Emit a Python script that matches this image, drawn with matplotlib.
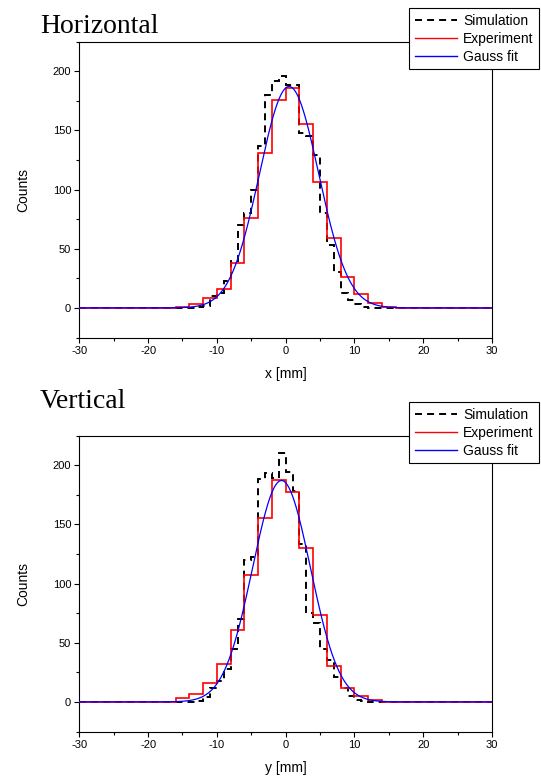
import numpy as np
import matplotlib
matplotlib.use('Agg')
import matplotlib.pyplot as plt
from matplotlib.ticker import MultipleLocator
from matplotlib.lines import Line2D

plt.rcParams['font.family'] = ['Liberation Sans', 'DejaVu Sans']
plt.rcParams['axes.unicode_minus'] = False

# x range of both panels [mm]
x_min, x_max = -30, 30

# Experiment, 2 mm bins starting at -16 mm
exp_start = -16
exp_width = 2
horiz_exp = [1, 3, 8, 16, 38, 76, 131, 176, 186, 155, 106, 59, 26, 12, 4, 1]
vert_exp = [3, 7, 16, 32, 61, 107, 155, 187, 177, 130, 73, 30, 12, 5, 2, 0]

# Simulation, 1 mm bins starting at -13 mm
sim_start = -13
sim_width = 1
horiz_sim = [1, 2, 10, 13, 23, 40, 70, 80, 100, 137, 180, 192, 196, 188, 188,
             148, 145, 129, 80, 53, 30, 13, 7, 3, 1, 0]
vert_sim = [1, 4, 12, 18, 28, 45, 70, 120, 122, 188, 193, 189, 210, 194, 178,
            133, 75, 67, 45, 35, 21, 12, 5, 2, 1, 0]

# Gauss fit parameters: amplitude, centre [mm], sigma [mm]
horiz_fit = [187, 0.5, 4.3]
vert_fit = [187, -0.6, 4.2]

panels = [
    ('Horizontal', 'x [mm]', horiz_sim, horiz_exp, horiz_fit),
    ('Vertical', 'y [mm]', vert_sim, vert_exp, vert_fit),
]


def full_hist(values, start, width):
    # pad the measured bins with zeros over the whole x range
    n_left = int((start - x_min) / width)
    n_right = int((x_max - start) / width) - len(values)
    vals = np.concatenate([np.zeros(n_left), values, np.zeros(n_right)])
    edges = np.arange(x_min, x_max + width / 2, width)
    return vals, edges


fig = plt.figure(figsize=(5.41, 7.80), dpi=100)
W, H = 541, 780

# axes boxes in pixels: left, top, right, bottom
boxes = [(79.3, 41.5, 492, 337.5), (79.3, 435.5, 492, 731.5)]
title_base = [33, 408]
legend_top = [8, 402]

for (title, xlabel, sim, exp, fit), box, tb, lt in zip(panels, boxes, title_base, legend_top):
    l, t, r, b = box
    ax = fig.add_axes([l / W, 1 - b / H, (r - l) / W, (b - t) / H])

    vals, edges = full_hist(sim, sim_start, sim_width)
    ax.stairs(vals, edges, color='black', lw=1.4, linestyle=(0, (3.6, 2.6)),
              baseline=None, zorder=2)
    vals, edges = full_hist(exp, exp_start, exp_width)
    ax.stairs(vals, edges, color='#ff0000', lw=1.2, baseline=None, zorder=3)

    amp, xc, sig = fit
    xs = np.linspace(x_min, x_max, 1201)
    ax.plot(xs, amp * np.exp(-(xs - xc) ** 2 / (2 * sig ** 2)), color='#0000ff', lw=0.9, zorder=4)

    ax.set_xlim(x_min, x_max)
    ax.set_ylim(-25, 225)
    ax.xaxis.set_major_locator(MultipleLocator(10))
    ax.xaxis.set_minor_locator(MultipleLocator(5))
    ax.yaxis.set_major_locator(MultipleLocator(50))
    ax.yaxis.set_minor_locator(MultipleLocator(25))
    ax.tick_params(which='major', direction='out', length=3.4, width=0.8, labelsize=8, pad=2.5)
    ax.tick_params(which='minor', direction='out', length=2, width=0.8)
    for sp in ax.spines.values():
        sp.set_linewidth(0.8)
    ax.set_xlabel(xlabel, fontsize=10, labelpad=8)
    ax.set_ylabel('Counts', fontsize=10, labelpad=16)

    fig.text(40 / W, 1 - tb / H, title, fontsize=20, family=['Liberation Serif', 'DejaVu Serif'],
             va='baseline', ha='left')

    handles = [
        Line2D([], [], color='black', lw=1.4, linestyle=(0, (3.6, 2.6))),
        Line2D([], [], color='#ff0000', lw=1.0),
        Line2D([], [], color='#0000ff', lw=1.0),
    ]
    leg = ax.legend(handles, ['Simulation', 'Experiment', 'Gauss fit'],
                    loc='upper right', bbox_to_anchor=(539 / W, 1 - lt / H),
                    bbox_transform=fig.transFigure, fontsize=10, frameon=True,
                    fancybox=False, framealpha=1, edgecolor='black',
                    borderpad=0.4, labelspacing=0.3, handlelength=3.0,
                    handletextpad=0.45, borderaxespad=0)
    leg.get_frame().set_linewidth(0.8)
    leg.set_zorder(10)

fig.savefig('out.png', dpi=100)
